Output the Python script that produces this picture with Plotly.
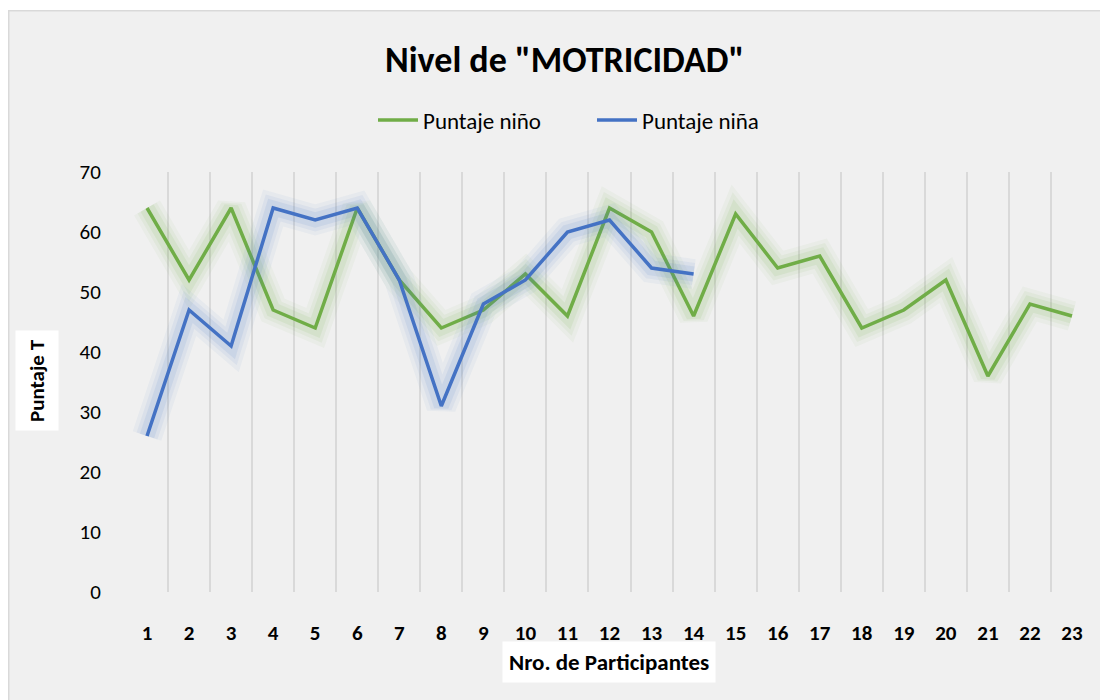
import plotly.graph_objects as go

participantes = list(range(1, 24))
tick_labels = [str(i) for i in participantes]
puntaje_nino = [64, 52, 64, 47, 44, 64, 52, 44, 47, 53, 46, 64, 60, 46, 63, 54, 56, 44, 47, 52, 36, 48, 46]
participantes_nina = list(range(1, 15))
puntaje_nina = [26, 47, 41, 64, 62, 64, 52, 31, 48, 52, 60, 62, 54, 53]

GREEN = "#70AD47"
BLUE = "#4472C4"
FONT = "Carlito, Calibri, Lato, sans-serif"

# page body has an 8px margin; work in page coordinates and convert
OFF = 8
W, H = 1100, 692
L, R, T, B = 118, 15, 164, 108
PW, PH = W - L - R, H - T - B


def px_x(page_x):
    return (page_x - OFF - L) / PW


def px_y(page_y):
    return (H - B - (page_y - OFF)) / PH


fig = go.Figure()


def glow(xs, ys, rgb):
    for w, a in [(30, 0.05), (22, 0.07), (15, 0.10)]:
        fig.add_trace(go.Scatter(
            x=xs, y=ys, mode="lines", showlegend=False, hoverinfo="skip",
            line=dict(color=f"rgba({rgb},{a})", width=w)))


glow(participantes, puntaje_nino, "112,173,71")
fig.add_trace(go.Scatter(x=participantes, y=puntaje_nino, mode="lines",
                         name="Puntaje niño", line=dict(color=GREEN, width=3.5)))
glow(participantes_nina, puntaje_nina, "68,114,196")
fig.add_trace(go.Scatter(x=participantes_nina, y=puntaje_nina, mode="lines",
                         name="Puntaje niña", line=dict(color=BLUE, width=3.5)))

fig.update_layout(
    width=W, height=H,
    margin=dict(l=L, r=R, t=T, b=B),
    paper_bgcolor="white",
    plot_bgcolor="rgba(0,0,0,0)",
    font=dict(family=FONT, color="#000000", size=21),
    showlegend=True,
    legend=dict(orientation="h", x=px_x(592), y=px_y(120), xanchor="center", yanchor="middle",
                font=dict(size=23, family=FONT), bgcolor="rgba(0,0,0,0)",
                itemwidth=40, entrywidth=164),
    xaxis=dict(range=[0.5, 23.5], tickmode="array", tickvals=participantes, ticktext=tick_labels,
               showgrid=False, zeroline=False, showline=False,
               ticks="outside", ticklen=22, tickcolor="rgba(0,0,0,0)",
               tickfont=dict(size=21, family=FONT, weight="bold"),
               minor=dict(tickmode="array", tickvals=[i + 0.5 for i in range(0, 24)],
                          showgrid=True, gridcolor="#d9d9d9", gridwidth=1.5, ticks="")),
    yaxis=dict(range=[0, 70], dtick=10, tick0=0, showgrid=False, zeroline=False, showline=False,
               ticks="outside", ticklen=20, tickcolor="rgba(0,0,0,0)",
               tickfont=dict(size=21, family=FONT)),
    shapes=[dict(type="rect", xref="paper", yref="paper", layer="below",
                 x0=px_x(8.75), x1=px_x(1120), y0=px_y(710), y1=px_y(10.75),
                 fillcolor="#f0f0f0", line=dict(color="#d9d9d9", width=1.5))],
    annotations=[
        dict(text='Nivel de "MOTRICIDAD"', xref="paper", yref="paper", x=px_x(564), y=px_y(60),
             xanchor="center", yanchor="middle", showarrow=False,
             font=dict(size=36, family=FONT, weight="bold")),
        dict(text="Puntaje T", xref="paper", yref="paper", x=px_x(37), y=px_y(381),
             xanchor="center", yanchor="middle", showarrow=False, textangle=-90,
             bgcolor="white", borderpad=8,
             font=dict(size=21, family=FONT, weight="bold")),
        dict(text="Nro. de Participantes", xref="paper", yref="paper", x=px_x(609), y=px_y(662),
             xanchor="center", yanchor="middle", showarrow=False,
             bgcolor="white", borderpad=6,
             font=dict(size=23, family=FONT, weight="bold")),
    ],
)

fig.write_html("out.html")
